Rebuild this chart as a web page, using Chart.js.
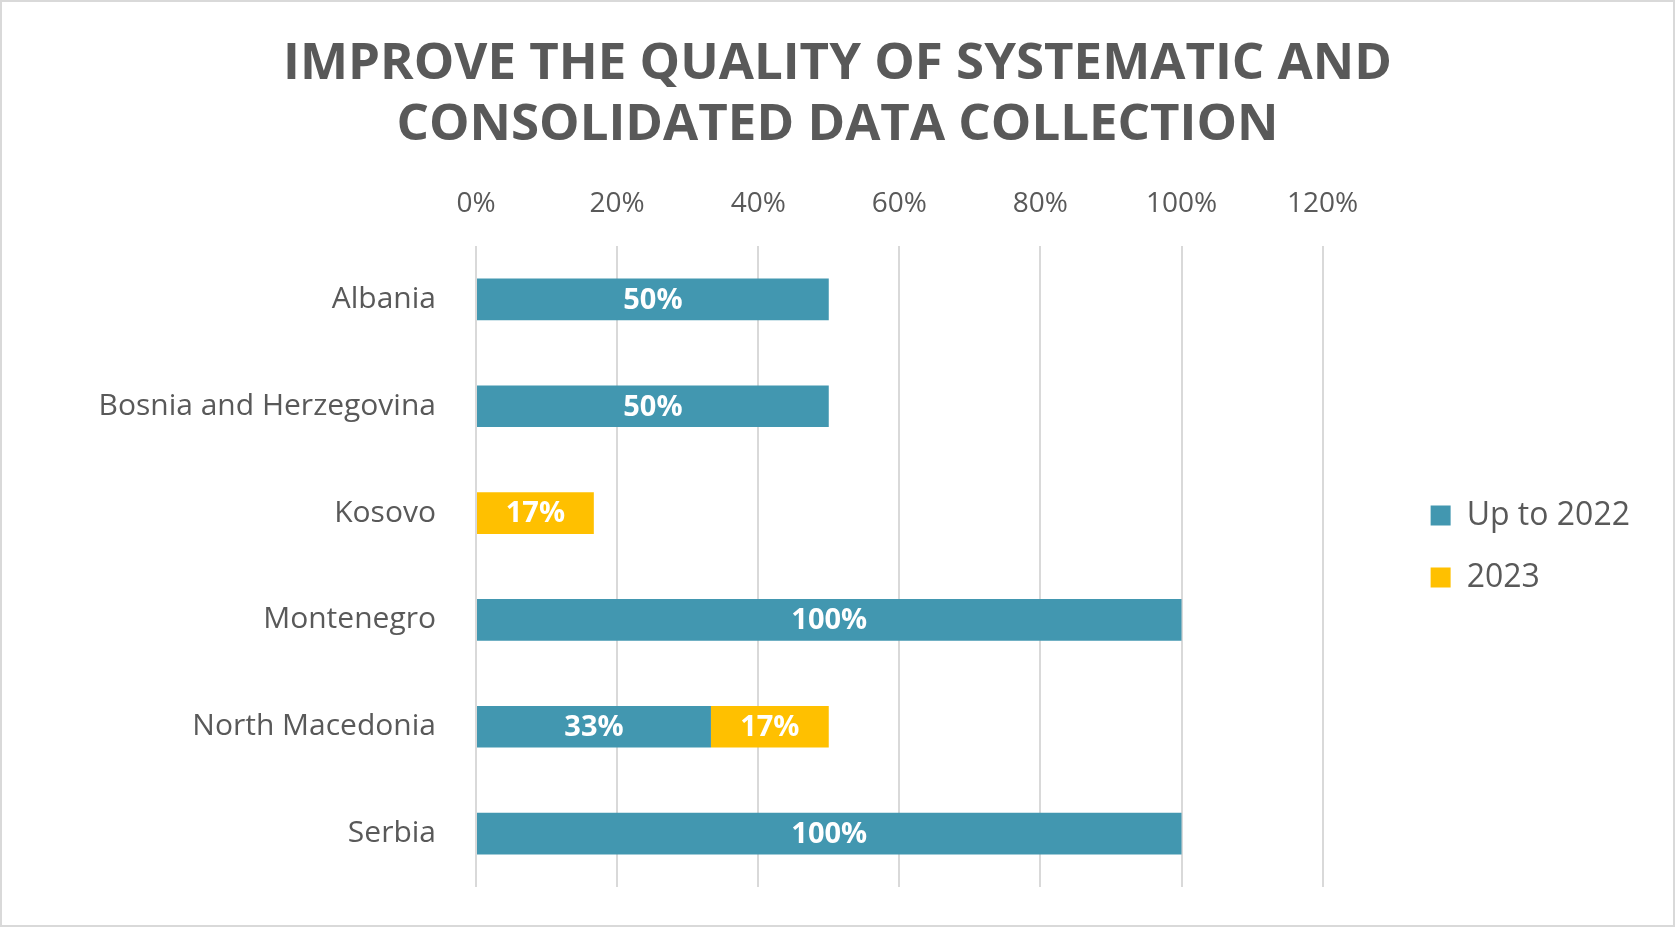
<!DOCTYPE html>
<html>
<head>
<meta charset="utf-8">
<script src="https://cdn.jsdelivr.net/npm/chart.js@4"></script>
<style>
	html, body { margin: 0; padding: 0; background: #fff; }
	.frame { width: 1675px; height: 927px; box-sizing: border-box; border: 2px solid #d9d9d9; position: relative; }
</style>
</head>
<body>
<div class="frame"><canvas id="bar-area"></canvas></div>
<script>
var countries = ['Albania', 'Bosnia and Herzegovina', 'Kosovo', 'Montenegro', 'North Macedonia', 'Serbia'];
var upTo2022 = [50, 50, null, 100, 33.3, 100];
var year2023 = [null, null, 16.7, null, 16.7, null];
var seriesNames = ['Up to 2022', '2023'];
var xTicks = [0, 20, 40, 60, 80, 100, 120];

var gray = '#595959';
var legendGap = 68;

// white % labels in the middle of each bar piece
var barLabels = {
	id: 'barLabels',
	afterDatasetsDraw: function(chart) {
		var ctx = chart.ctx;
		ctx.save();
		ctx.font = 'bold 29px "Open Sans"';
		ctx.fillStyle = '#ffffff';
		ctx.textAlign = 'center';
		ctx.textBaseline = 'middle';
		chart.data.datasets.forEach(function(ds, i) {
			chart.getDatasetMeta(i).data.forEach(function(bar, j) {
				var v = ds.data[j];
				if (!v) return;
				var p = bar.getProps(['x', 'y', 'base'], true);
				ctx.fillText(Math.round(v) + '%', (p.x + p.base) / 2, p.y + 1);
			});
		});
		ctx.restore();
	}
};

// leave an empty strip between the plot and the legend
var legendSpace = {
	id: 'legendSpace',
	beforeInit: function(chart) {
		var fit = chart.legend.fit;
		chart.legend.fit = function() {
			fit.call(this);
			this.width += legendGap;
		};
	},
	afterLayout: function(chart) {
		chart.legend.left += legendGap + 10;
		chart.legend.top += 102;
		chart.legend.bottom += 102;
	}
};

var config_bar = {
	type: 'bar',
	data: {
		labels: countries,
		datasets: [{
			label: seriesNames[0],
			data: upTo2022,
			backgroundColor: '#4297B0',
			barPercentage: 0.39,
			categoryPercentage: 1
		}, {
			label: seriesNames[1],
			data: year2023,
			backgroundColor: '#FFC000',
			barPercentage: 0.39,
			categoryPercentage: 1
		}]
	},
	options: {
		indexAxis: 'y',
		responsive: true,
		maintainAspectRatio: false,
		animation: false,
		layout: { padding: { left: 43, right: 43, bottom: 38 } },
		scales: {
			x: {
				position: 'top',
				stacked: true,
				min: 0,
				max: 120,
				afterBuildTicks: function(axis) {
					axis.ticks = xTicks.map(function(v) { return { value: v }; });
				},
				border: { display: false },
				grid: { color: '#d9d9d9', lineWidth: 2, drawTicks: false },
				ticks: {
					padding: 25,
					color: gray,
					font: { family: 'Open Sans', size: 28 },
					callback: function(v) { return v + '%'; }
				}
			},
			y: {
				stacked: true,
				border: { display: false },
				grid: { display: false },
				afterFit: function(axis) {
					axis.width = 431;
					axis.paddingTop = 0;
					axis.paddingBottom = 0;
				},
				ticks: {
					padding: 32,
					color: gray,
					font: { family: 'Open Sans', size: 30 }
				}
			}
		},
		plugins: {
			title: {
				display: true,
				text: ['IMPROVE THE QUALITY OF SYSTEMATIC AND', 'CONSOLIDATED DATA COLLECTION'],
				color: gray,
				font: { family: 'Open Sans', size: 51, weight: 'bold', lineHeight: 1.2 },
				padding: { top: 32, bottom: 6 }
			},
			legend: {
				position: 'right',
				labels: {
					boxWidth: 20,
					boxHeight: 20,
					padding: 30,
					color: gray,
					font: { family: 'Open Sans', size: 32 }
				}
			},
			tooltip: { enabled: false }
		}
	},
	plugins: [barLabels, legendSpace]
};

window.onload = function() {
	var ctx = document.getElementById('bar-area').getContext('2d');
	window.myBar = new Chart(ctx, config_bar);
};
</script>
</body>
</html>
